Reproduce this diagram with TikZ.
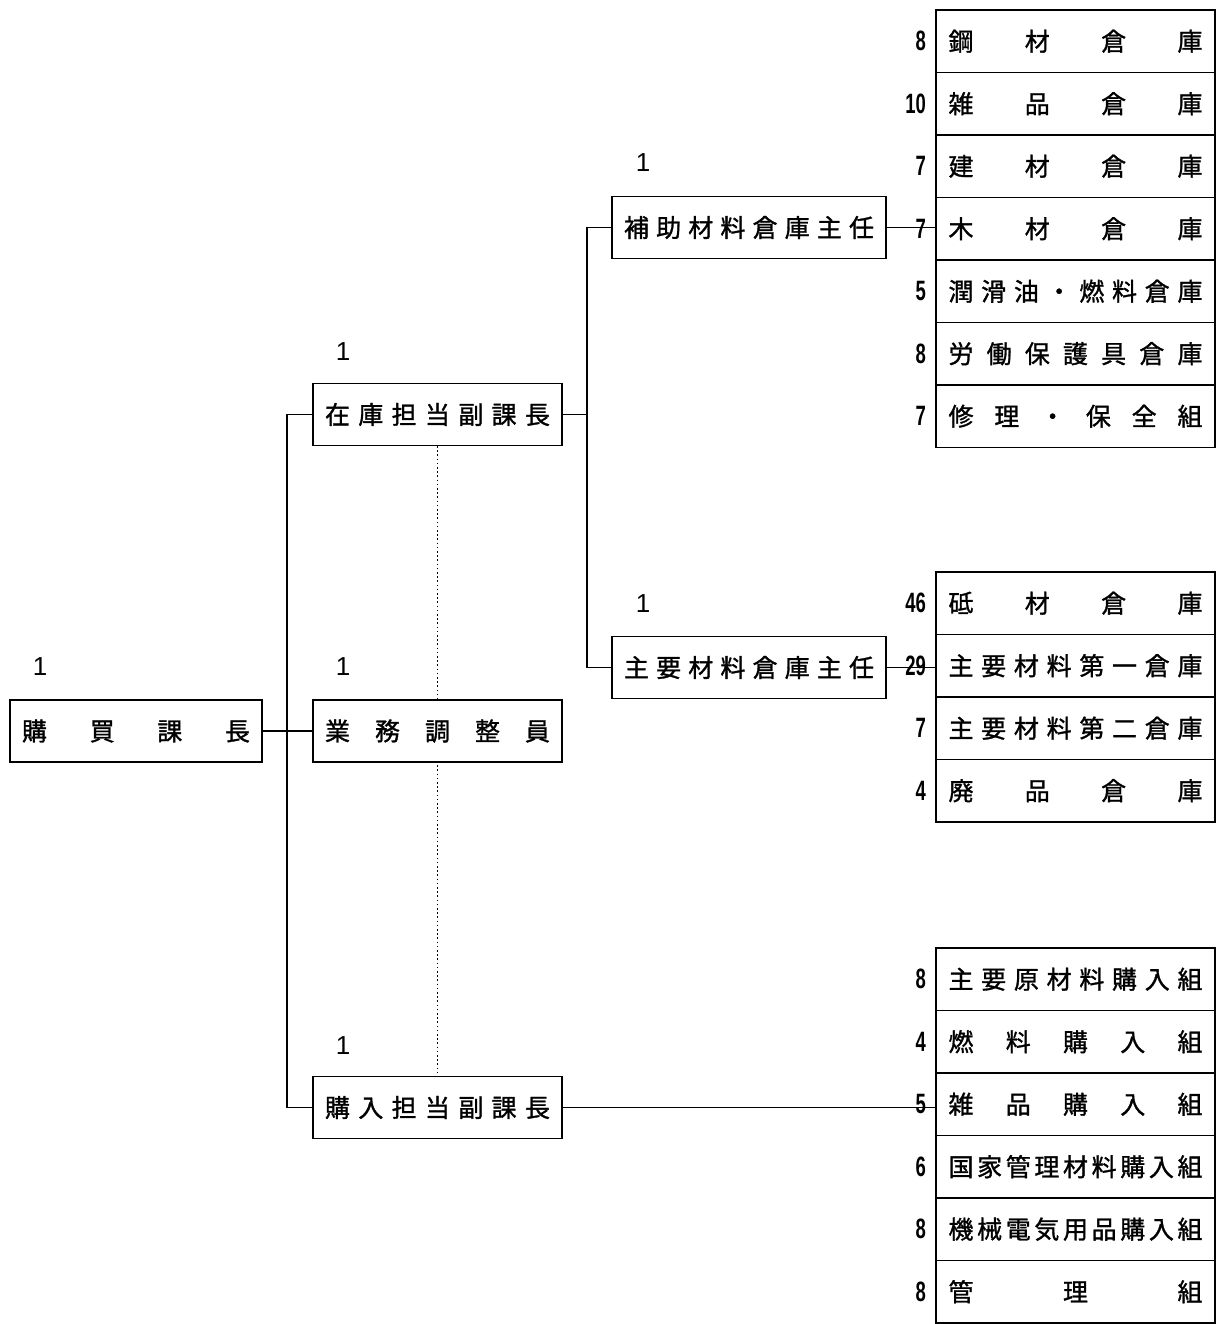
\documentclass[tikz,border=0pt]{standalone}
\usepackage{fontspec}
\newfontfamily\cjk{Noto Sans CJK JP}[FakeBold=1.2]
\newfontfamily\numf{Liberation Sans}[FakeStretch=0.66]
\newfontfamily\onef{Liberation Sans}
\newcommand\sprd[2]{\makebox[#1pt][s]{#2}}
\tikzset{
  box/.style={draw, line width=1.4pt, fill=white, inner sep=0pt, minimum height=62pt,
    font=\cjk\fontsize{25}{28}\selectfont},
  cell/.style={box, minimum width=279pt, minimum height=62.5pt},
  num/.style={font=\numf\bfseries\fontsize{28}{30}\selectfont, anchor=east, inner sep=0pt},
  one/.style={font=\onef\fontsize{26}{28}\selectfont, inner sep=0pt},
  conn/.style={line width=1.4pt},
  dots/.style={line width=1.6pt, dash pattern=on 1.6pt off 2.6pt}
}
\begin{document}
\begin{tikzpicture}[x=1pt,y=-1pt]
\fill[white] (0,0) rectangle (1218,1324);
\useasboundingbox (0,0) rectangle (1218,1324);
% helper coordinates for trunks
\coordinate (t1) at (287,0);
\coordinate (t2) at (587,0);
% dotted line behind boxes
\coordinate (dtop) at (437.5,446);
\coordinate (dbot) at (437.5,1076);
\draw[dots] (dtop) -- (dbot);
% left boxes
\node[box, minimum width=252pt] (kacho) at (136,731) {\sprd{228}{購\hfill 買\hfill 課\hfill 長}};
\node[box, minimum width=249pt] (zaiko) at (437.5,414.5) {\sprd{225}{在\hfill 庫\hfill 担\hfill 当\hfill 副\hfill 課\hfill 長}};
\node[box, minimum width=249pt] (gyomu) at (437.5,731) {\sprd{225}{業\hfill 務\hfill 調\hfill 整\hfill 員}};
\node[box, minimum width=249pt] (konyu) at (437.5,1107.5) {\sprd{225}{購\hfill 入\hfill 担\hfill 当\hfill 副\hfill 課\hfill 長}};
\node[box, minimum width=274pt] (hojo) at (749,227.5) {\sprd{250}{補\hfill 助\hfill 材\hfill 料\hfill 倉\hfill 庫\hfill 主\hfill 任}};
\node[box, minimum width=274pt] (shuyo) at (749,667.5) {\sprd{250}{主\hfill 要\hfill 材\hfill 料\hfill 倉\hfill 庫\hfill 主\hfill 任}};
% "1" labels
\node[one] (n1) at (40,667) {1};
\node[one] (n2) at (343,352) {1};
\node[one] (n3) at (343,667) {1};
\node[one] (n4) at (343,1046) {1};
\node[one] (n5) at (643,163) {1};
\node[one] (n6) at (643,604) {1};
% right column: top group
\node[cell] (r1) at (1075.5,41.2) {\sprd{254}{鋼\hfill 材\hfill 倉\hfill 庫}};
\node[cell] (r2) at (1075.5,103.7) {\sprd{254}{雑\hfill 品\hfill 倉\hfill 庫}};
\node[cell] (r3) at (1075.5,166.2) {\sprd{254}{建\hfill 材\hfill 倉\hfill 庫}};
\node[cell] (r4) at (1075.5,228.7) {\sprd{254}{木\hfill 材\hfill 倉\hfill 庫}};
\node[cell] (r5) at (1075.5,291.2) {\sprd{254}{潤\hfill 滑\hfill 油\hfill ・\hfill 燃\hfill 料\hfill 倉\hfill 庫}};
\node[cell] (r6) at (1075.5,353.7) {\sprd{254}{労\hfill 働\hfill 保\hfill 護\hfill 具\hfill 倉\hfill 庫}};
\node[cell] (r7) at (1075.5,416.2) {\sprd{254}{修\hfill 理\hfill ・\hfill 保\hfill 全\hfill 組}};
% middle group
\node[cell] (m1) at (1075.5,603.2) {\sprd{254}{砥\hfill 材\hfill 倉\hfill 庫}};
\node[cell] (m2) at (1075.5,665.7) {\sprd{254}{主\hfill 要\hfill 材\hfill 料\hfill 第\hfill 一\hfill 倉\hfill 庫}};
\node[cell] (m3) at (1075.5,728.2) {\sprd{254}{主\hfill 要\hfill 材\hfill 料\hfill 第\hfill 二\hfill 倉\hfill 庫}};
\node[cell] (m4) at (1075.5,790.7) {\sprd{254}{廃\hfill 品\hfill 倉\hfill 庫}};
% bottom group
\node[cell] (b1) at (1075.5,979.2) {\sprd{254}{主\hfill 要\hfill 原\hfill 材\hfill 料\hfill 購\hfill 入\hfill 組}};
\node[cell] (b2) at (1075.5,1041.7) {\sprd{254}{燃\hfill 料\hfill 購\hfill 入\hfill 組}};
\node[cell] (b3) at (1075.5,1104.2) {\sprd{254}{雑\hfill 品\hfill 購\hfill 入\hfill 組}};
\node[cell] (b4) at (1075.5,1166.7) {\sprd{254}{国\hfill 家\hfill 管\hfill 理\hfill 材\hfill 料\hfill 購\hfill 入\hfill 組}};
\node[cell] (b5) at (1075.5,1229.2) {\sprd{254}{機\hfill 械\hfill 電\hfill 気\hfill 用\hfill 品\hfill 購\hfill 入\hfill 組}};
\node[cell] (b6) at (1075.5,1291.7) {\sprd{254}{管\hfill 理\hfill 組}};
% connectors
\draw[conn] (kacho.east) -- (gyomu.west);
\draw[conn] (zaiko.west) -- (zaiko.west -| t1) -- (konyu.west -| t1) -- (konyu.west);
\draw[conn] (zaiko.east) -- (zaiko.east -| t2);
\draw[conn] (hojo.west) -- (hojo.west -| t2) -- (shuyo.west -| t2) -- (shuyo.west);
\draw[conn] (hojo.east) -- (r4.west |- hojo.east);
\draw[conn] (shuyo.east) -- (m2.west |- shuyo.east);
\draw[conn] (konyu.east) -- (b3.west |- konyu.east);
% numbers
\node[num] (c1) at (926,41.2) {8};
\node[num] (c2) at (926,103.7) {10};
\node[num] (c3) at (926,166.2) {7};
\node[num] (c4) at (926,228.7) {7};
\node[num] (c5) at (926,291.2) {5};
\node[num] (c6) at (926,353.7) {8};
\node[num] (c7) at (926,416.2) {7};
\node[num] (d1) at (926,603.2) {46};
\node[num] (d2) at (926,665.7) {29};
\node[num] (d3) at (926,728.2) {7};
\node[num] (d4) at (926,790.7) {4};
\node[num] (e1) at (926,979.2) {8};
\node[num] (e2) at (926,1041.7) {4};
\node[num] (e3) at (926,1104.2) {5};
\node[num] (e4) at (926,1166.7) {6};
\node[num] (e5) at (926,1229.2) {8};
\node[num] (e6) at (926,1291.7) {8};
\end{tikzpicture}
\end{document}
